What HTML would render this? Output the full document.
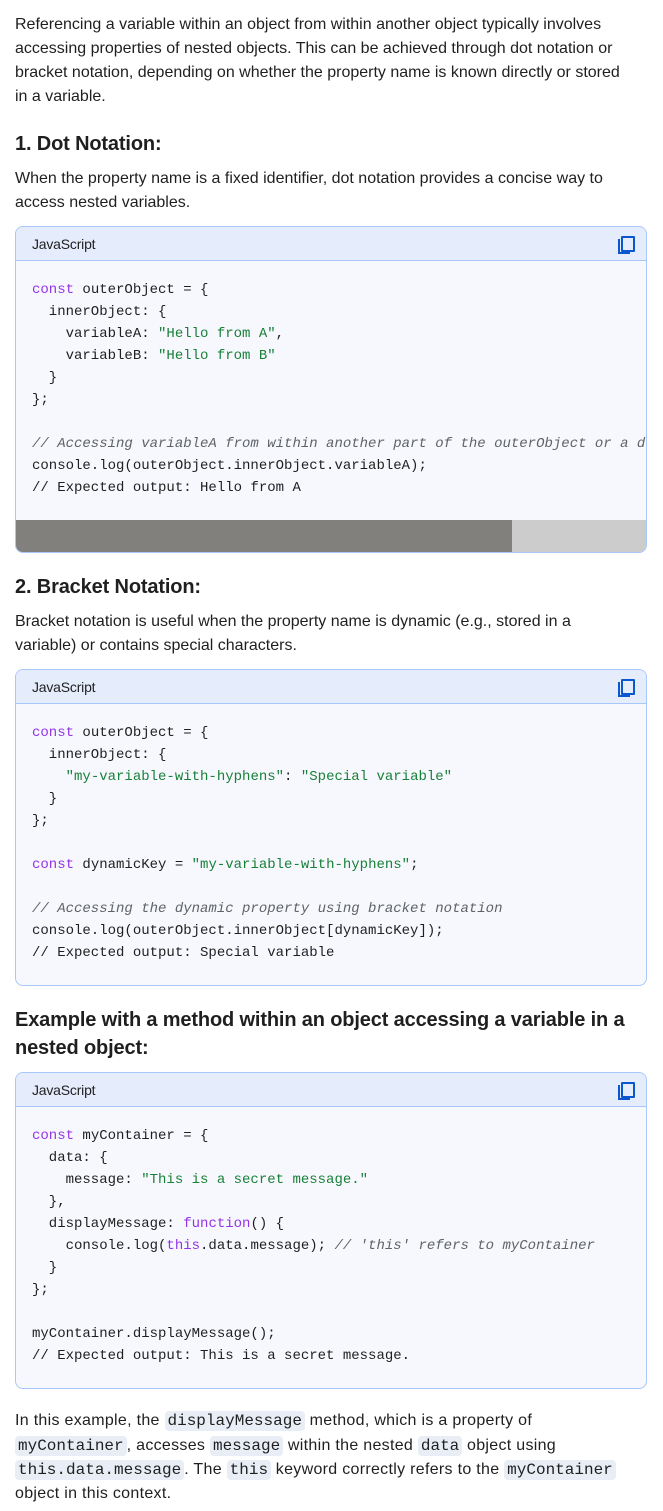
<!DOCTYPE html>
<html><head><meta charset="utf-8"><style>
*{margin:0;padding:0;box-sizing:border-box}
body{width:663px;height:1511px;background:#fff;position:relative;overflow:hidden;font-family:"Liberation Sans",sans-serif;color:#1f1f1f}
.t{position:absolute;left:15px;font-size:16px;letter-spacing:0;white-space:nowrap;line-height:24px}
.t.w{letter-spacing:0.3px}
.h{position:absolute;left:15px;font-size:20px;font-weight:bold;letter-spacing:-0.15px;white-space:nowrap;line-height:28px}
.blk{position:absolute;left:15px;width:632px;border:1px solid #a8c7fa;border-radius:8px;background:#f7f8fd;overflow:hidden}
.hd{height:34px;background:#e5ecfb;border-bottom:1px solid #a8c7fa;font-size:14px;letter-spacing:-0.2px;padding-left:16px;line-height:34px;position:relative}
.cp{position:absolute;right:14px;top:9px;width:14px;height:16px}
.cp:before{content:"";position:absolute;left:3px;top:0;width:10px;height:12px;border:2px solid #0b57d0;border-radius:1px}
.cp:after{content:"";position:absolute;left:0;top:3px;width:10px;height:13px;border-left:2px solid #0b57d0;border-bottom:2px solid #0b57d0}
pre{font-family:"Liberation Mono",monospace;font-size:14px;line-height:22px;padding:18px 0 0 16px;color:#1f1f1f;white-space:pre}
.k{color:#9334e6}.s{color:#188038}.c{color:#5f6368;font-style:italic}
code{font-family:"Liberation Mono",monospace;font-size:16px;background:#e9eef6;border-radius:4px;padding:1px 3px;letter-spacing:0}
</style></head><body>
<div class="t" style="top:13px">Referencing a variable within an object from within another object typically involves</div>
<div class="t" style="top:37px">accessing properties of nested objects. This can be achieved through dot notation or</div>
<div class="t" style="top:61px">bracket notation, depending on whether the property name is known directly or stored</div>
<div class="t" style="top:85px">in a variable.</div>
<div class="h" style="top:130px">1. Dot Notation:</div>
<div class="t" style="top:167px">When the property name is a fixed identifier, dot notation provides a concise way to</div>
<div class="t" style="top:191px">access nested variables.</div>
<div class="blk" style="top:226px;height:327px"><div class="hd">JavaScript<span class="cp"></span></div>
<pre><span class="k">const</span> outerObject = {
  innerObject: {
    variableA: <span class="s">"Hello from A"</span>,
    variableB: <span class="s">"Hello from B"</span>
  }
};

<span class="c">// Accessing variableA from within another part of the outerObject or a d</span>
console.log(outerObject.innerObject.variableA);
// Expected output: Hello from A</pre>
<div style="position:absolute;left:0;top:293px;width:632px;height:33px;background:#cccccc"></div>
<div style="position:absolute;left:0;top:293px;width:496px;height:33px;background:#82807c"></div>
</div>
<div class="h" style="top:573px">2. Bracket Notation:</div>
<div class="t" style="top:610px">Bracket notation is useful when the property name is dynamic (e.g., stored in a</div>
<div class="t" style="top:634px">variable) or contains special characters.</div>
<div class="blk" style="top:669px;height:317px"><div class="hd">JavaScript<span class="cp"></span></div>
<pre><span class="k">const</span> outerObject = {
  innerObject: {
    <span class="s">"my-variable-with-hyphens"</span>: <span class="s">"Special variable"</span>
  }
};

<span class="k">const</span> dynamicKey = <span class="s">"my-variable-with-hyphens"</span>;

<span class="c">// Accessing the dynamic property using bracket notation</span>
console.log(outerObject.innerObject[dynamicKey]);
// Expected output: Special variable</pre>
</div>
<div class="h" style="top:1006px">Example with a method within an object accessing a variable in a</div>
<div class="h" style="top:1034px">nested object:</div>
<div class="blk" style="top:1072px;height:317px"><div class="hd">JavaScript<span class="cp"></span></div>
<pre><span class="k">const</span> myContainer = {
  data: {
    message: <span class="s">"This is a secret message."</span>
  },
  displayMessage: <span class="k">function</span>() {
    console.log(<span class="k">this</span>.data.message); <span class="c">// 'this' refers to myContainer</span>
  }
};

myContainer.displayMessage();
// Expected output: This is a secret message.</pre>
</div>
<div class="t w" style="top:1409px">In this example, the <code>displayMessage</code> method, which is a property of</div>
<div class="t w" style="top:1434px"><code>myContainer</code>, accesses <code>message</code> within the nested <code>data</code> object using</div>
<div class="t w" style="top:1458px"><code>this.data.message</code>. The <code>this</code> keyword correctly refers to the <code>myContainer</code></div>
<div class="t w" style="top:1482px">object in this context.</div>
</body></html>
